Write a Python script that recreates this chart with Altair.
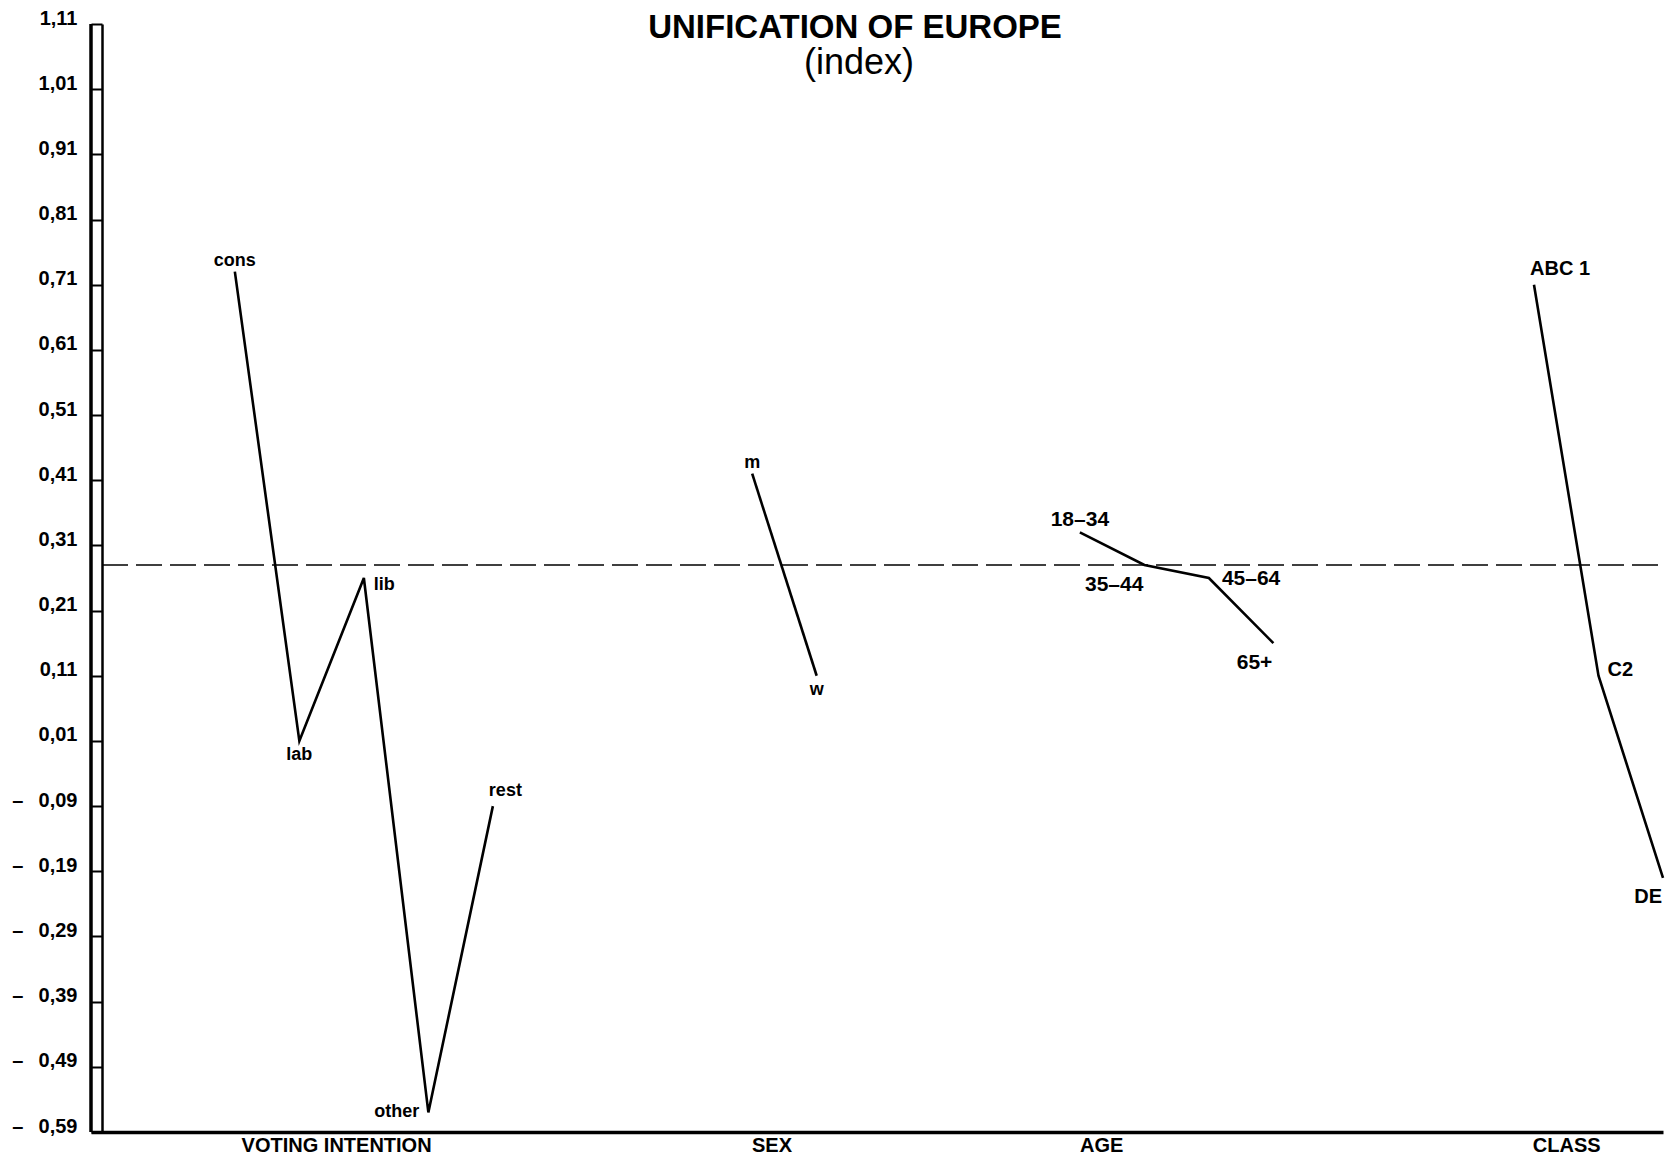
import altair as alt
import pandas as pd

# ---------------- data ----------------
TITLE = "UNIFICATION OF EUROPE"
SUBTITLE = "(index)"

GROUPS = ["VOTING INTENTION", "SEX", "AGE", "CLASS"]

VOTING_CATS = ["cons", "lab", "lib", "other", "rest"]
VOTING_VALS = [0.73, 0.01, 0.26, -0.56, -0.09]

SEX_CATS = ["m", "w"]
SEX_VALS = [0.42, 0.11]

AGE_CATS = ["18–34", "35–44", "45–64", "65+"]
AGE_VALS = [0.33, 0.28, 0.26, 0.16]

CLASS_CATS = ["ABC 1", "C2", "DE"]
CLASS_VALS = [0.71, 0.11, -0.20]

OVERALL_INDEX = 0.28  # dashed reference line

Y_TICK_VALUES = [1.11, 1.01, 0.91, 0.81, 0.71, 0.61, 0.51, 0.41, 0.31, 0.21,
                 0.11, 0.01, -0.09, -0.19, -0.29, -0.39, -0.49, -0.59]

# ---------------- layout (not data) ----------------
W, H = 1572, 1108
GROUP_START = {"VOTING INTENTION": 2.23, "SEX": 10.25, "AGE": 15.33, "CLASS": 22.37}
GROUP_LABEL_POS = {"VOTING INTENTION": 3.8, "SEX": 10.55, "AGE": 15.66, "CLASS": 22.87}
X_DOMAIN = [0, 24.37]
Y_DOMAIN = [-0.59, 1.11]

LABEL_PLACEMENT = {
    "cons": "above", "m": "above", "18–34": "above",
    "lab": "below", "w": "below",
    "lib": "right_below", "45–64": "right", "C2": "right_above",
    "other": "left",
    "ABC 1": "above_left", "rest": "above_left",
    "35–44": "below_right", "65+": "below_right", "DE": "below_right",
}
PLACEMENTS = {
    "above": dict(align="center", baseline="alphabetic", dx=0, dy=-6),
    "below": dict(align="center", baseline="top", dx=0, dy=5),
    "right": dict(align="left", baseline="middle", dx=13, dy=1),
    "right_below": dict(align="left", baseline="middle", dx=10, dy=7),
    "right_above": dict(align="left", baseline="middle", dx=9, dy=-6),
    "left": dict(align="right", baseline="middle", dx=-9, dy=0),
    "above_left": dict(align="left", baseline="alphabetic", dx=-4, dy=-10),
    "below_right": dict(align="right", baseline="top", dx=-1, dy=9),
}
LABEL_SIZE = {"VOTING INTENTION": 18, "SEX": 18, "AGE": 21, "CLASS": 20}
FONT = "Liberation Sans"

# ---------------- build table ----------------
series = {
    "VOTING INTENTION": (VOTING_CATS, VOTING_VALS),
    "SEX": (SEX_CATS, SEX_VALS),
    "AGE": (AGE_CATS, AGE_VALS),
    "CLASS": (CLASS_CATS, CLASS_VALS),
}
rows = []
for g in GROUPS:
    cats, vals = series[g]
    for i, (c, v) in enumerate(zip(cats, vals)):
        rows.append({"group": g, "category": c, "value": v,
                     "x": GROUP_START[g] + i, "order": i,
                     "placement": LABEL_PLACEMENT[c],
                     "fsize": LABEL_SIZE[g]})
df = pd.DataFrame(rows)
mean_df = pd.DataFrame({"value": [OVERALL_INDEX]})
title_df = pd.DataFrame({"t": [TITLE], "s": [SUBTITLE]})

x_label_expr = " : ".join(
    [f"abs(datum.value - {p}) < 0.01 ? '{g}'" for g, p in GROUP_LABEL_POS.items()]
) + " : ''"

X_ENC = alt.X(
    "x:Q",
    scale=alt.Scale(domain=X_DOMAIN, nice=False, zero=False),
    axis=alt.Axis(
        values=list(GROUP_LABEL_POS.values()), labelExpr=x_label_expr,
        ticks=False, tickSize=0, grid=False, title=None,
        domainColor="black", domainWidth=3.5,
        labelFont=FONT, labelFontSize=20, labelFontWeight="bold", labelColor="black",
        labelPadding=19, labelBaseline="alphabetic", labelOverlap=False, labelFlush=False,
        labelLimit=0,
    ),
)

y_label_expr = ("(datum.value < 0 ? '–\u00a0\u00a0\u202f' : '') + "
                "replace(format(abs(datum.value), '.2f'), '.', ',')")

Y_ENC = alt.Y(
    "value:Q",
    scale=alt.Scale(domain=Y_DOMAIN, nice=False, zero=False),
    axis=alt.Axis(
        values=Y_TICK_VALUES, labelExpr=y_label_expr, offset=-11,
        grid=False, title=None,
        domainColor="black", domainWidth=2.5,
        tickColor="black", tickWidth=2, tickSize=11,
        labelFont=FONT, labelFontSize=20, labelFontWeight="bold", labelColor="black",
        labelPadding=14, labelBaseline="alphabetic", labelOverlap=False, labelFlush=False,
        labelLimit=0,
    ),
)

base = alt.Chart(df).encode(x=X_ENC, y=Y_ENC)

lines = base.mark_line(color="black", strokeWidth=2.6, strokeCap="butt",
                       strokeJoin="miter").encode(
    detail="group:N", order="order:Q")

mean_rule = alt.Chart(mean_df).mark_rule(
    color="black", strokeWidth=1.6, strokeDash=[26, 8]
).encode(y=Y_ENC, x=alt.value(11), x2=alt.value(W + 2))

outer_ruler = alt.Chart(mean_df).mark_rule(color="black", strokeWidth=3.5).encode(
    x=alt.value(0), y=alt.value(0), y2=alt.value(H))

label_layers = []
for name, p in PLACEMENTS.items():
    label_layers.append(
        base.mark_text(font=FONT, fontWeight="bold", color="black", **p)
        .encode(
            text="category:N",
            size=alt.Size("fsize:Q", scale=None, legend=None),
        )
        .transform_filter(alt.datum.placement == name)
    )

title_text = alt.Chart(title_df).mark_text(
    font=FONT, fontSize=33, fontWeight="bold", color="black",
    align="center", baseline="alphabetic"
).encode(text="t:N", x=alt.value(764), y=alt.value(14))

subtitle_text = alt.Chart(title_df).mark_text(
    font=FONT, fontSize=36, fontWeight="normal", color="black",
    align="center", baseline="alphabetic"
).encode(text="s:N", x=alt.value(768), y=alt.value(50))

chart = alt.layer(
    mean_rule, outer_ruler, lines, *label_layers, title_text, subtitle_text
).properties(
    width=W, height=H,
    autosize=alt.AutoSizeParams(type="none"),
    padding={"left": 83, "top": 16, "right": 2, "bottom": 23},
    background="white",
).configure_view(stroke=None)

chart.save("out.html", embed_options={"renderer": "svg", "actions": False})
